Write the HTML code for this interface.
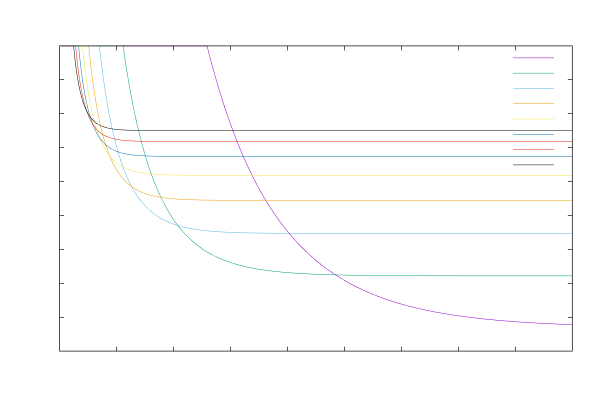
<!DOCTYPE html>
<html><head><meta charset="utf-8"><title>plot</title>
<style>
html,body{margin:0;padding:0;background:#fff;}
body{width:600px;height:400px;overflow:hidden;font-family:"Liberation Sans",sans-serif;}
svg{display:block;}
</style></head><body>
<svg width="600" height="400" viewBox="0 0 600 400">
<rect width="600" height="400" fill="#fff"/>
<g id="curves">
<path fill="#9400D3" d="M207.09 47.21L207.40 48.41L207.72 49.61L208.03 50.80L208.34 52.00L208.65 53.19L208.96 54.39L209.28 55.58L209.59 56.77L209.91 57.96L210.23 59.14L210.54 60.33L210.86 61.51L211.18 62.70L211.50 63.88L211.83 65.06L212.15 66.24L212.47 67.42L212.80 68.60L213.12 69.77L213.45 70.95L213.78 72.12L214.11 73.29L214.44 74.46L214.77 75.63L215.10 76.80L215.44 77.97L215.77 79.13L216.11 80.29L216.45 81.46L216.79 82.62L217.13 83.78L217.47 84.93L217.81 86.09L218.16 87.25L218.50 88.40L218.85 89.55L219.20 90.70L219.55 91.85L219.90 93.00L220.25 94.14L220.61 95.29L220.96 96.43L221.32 97.57L221.68 98.71L222.04 99.85L222.40 100.99L222.77 102.12L223.13 103.26L223.50 104.39L223.86 105.52L224.23 106.65L224.60 107.78L224.98 108.90L225.35 110.03L225.73 111.15L226.10 112.27L226.48 113.39L226.86 114.51L227.25 115.62L227.63 116.74L228.02 117.85L228.40 118.96L228.79 120.07L229.18 121.17L229.58 122.28L229.97 123.38L230.37 124.48L230.76 125.58L231.16 126.68L231.56 127.78L231.97 128.87L232.37 129.97L232.78 131.06L233.19 132.15L233.60 133.23L234.01 134.32L234.42 135.40L234.84 136.48L235.26 137.56L235.68 138.64L236.10 139.72L236.52 140.79L236.95 141.86L237.38 142.93L237.81 144.00L238.24 145.07L238.67 146.13L239.11 147.19L239.54 148.25L239.98 149.31L240.42 150.37L240.87 151.42L241.31 152.47L241.76 153.52L242.21 154.57L242.66 155.61L243.12 156.66L243.57 157.70L244.03 158.74L244.49 159.77L244.96 160.81L245.42 161.84L245.89 162.87L246.36 163.90L246.83 164.92L247.30 165.95L247.78 166.97L248.26 167.99L248.74 169.00L249.22 170.02L249.71 171.03L250.20 172.04L250.69 173.05L251.18 174.05L251.67 175.06L252.17 176.06L252.67 177.05L253.17 178.05L253.68 179.04L254.18 180.03L254.69 181.02L255.21 182.01L255.72 182.99L256.24 183.97L256.76 184.95L257.28 185.92L257.80 186.90L258.33 187.87L258.86 188.83L259.39 189.80L259.93 190.76L260.46 191.72L261.00 192.68L261.55 193.63L262.09 194.59L262.64 195.53L263.19 196.48L263.75 197.42L264.30 198.37L264.86 199.30L265.42 200.24L265.99 201.17L266.56 202.10L267.13 203.03L267.70 203.95L268.28 204.88L268.85 205.79L269.44 206.71L270.02 207.62L270.61 208.53L271.20 209.44L271.79 210.34L272.39 211.24L272.99 212.14L273.59 213.04L274.20 213.93L274.81 214.82L275.42 215.70L276.03 216.59L276.65 217.47L277.27 218.34L277.90 219.22L278.52 220.09L279.15 220.95L279.79 221.82L280.42 222.68L281.06 223.54L281.71 224.39L282.35 225.24L283.00 226.09L283.66 226.94L284.31 227.78L284.97 228.62L285.63 229.45L286.30 230.28L286.97 231.11L287.64 231.93L288.32 232.76L289.00 233.57L289.68 234.39L290.37 235.20L291.06 236.01L291.75 236.81L292.45 237.61L293.15 238.41L293.85 239.20L294.56 239.99L295.27 240.78L295.99 241.56L296.71 242.34L297.43 243.12L298.15 243.89L298.88 244.66L299.62 245.43L300.35 246.19L301.09 246.94L301.84 247.70L302.58 248.45L303.34 249.20L304.09 249.94L304.85 250.68L305.61 251.41L306.38 252.15L307.15 252.87L307.92 253.60L308.70 254.32L309.48 255.03L310.27 255.75L311.06 256.46L311.85 257.16L312.65 257.86L313.45 258.56L314.25 259.25L315.06 259.94L315.88 260.63L316.69 261.31L317.51 261.99L318.34 262.66L319.17 263.33L320.00 263.99L320.84 264.66L321.68 265.31L322.52 265.97L323.37 266.62L324.22 267.26L325.08 267.90L325.94 268.54L326.81 269.17L327.68 269.80L328.55 270.43L329.43 271.05L330.31 271.67L331.19 272.28L332.08 272.89L332.98 273.49L333.88 274.09L334.78 274.69L335.68 275.28L336.59 275.87L337.51 276.45L338.43 277.03L339.35 277.61L340.28 278.18L341.21 278.75L342.14 279.31L343.08 279.87L344.03 280.42L344.98 280.97L345.93 281.52L346.88 282.06L347.85 282.60L348.81 283.13L349.78 283.66L350.75 284.19L351.73 284.71L352.71 285.22L353.70 285.74L354.69 286.25L355.68 286.75L356.68 287.25L357.68 287.75L358.69 288.24L359.70 288.73L360.72 289.21L361.73 289.69L362.76 290.16L363.79 290.64L364.82 291.10L365.85 291.56L366.89 292.02L367.94 292.48L368.99 292.93L370.04 293.37L371.09 293.82L372.15 294.25L373.22 294.69L374.29 295.12L375.36 295.54L376.44 295.97L377.52 296.38L378.60 296.80L379.69 297.21L380.79 297.61L381.88 298.01L382.98 298.41L384.09 298.80L385.20 299.19L386.31 299.58L387.43 299.96L388.55 300.34L389.67 300.71L390.80 301.08L391.94 301.45L393.07 301.81L394.21 302.17L395.36 302.53L396.50 302.88L397.66 303.22L398.81 303.57L399.97 303.91L401.13 304.24L402.30 304.57L403.47 304.90L404.64 305.23L405.82 305.55L407.00 305.87L408.19 306.18L409.38 306.49L410.57 306.80L411.76 307.10L412.94 307.40L413.06 306.91L411.89 306.62L410.69 306.31L409.50 306.01L408.31 305.70L407.13 305.38L405.95 305.07L404.78 304.75L403.60 304.42L402.44 304.09L401.27 303.76L400.11 303.43L398.95 303.09L397.80 302.74L396.65 302.40L395.50 302.05L394.36 301.69L393.22 301.34L392.09 300.97L390.96 300.61L389.83 300.24L388.71 299.87L387.59 299.49L386.47 299.11L385.36 298.72L384.26 298.33L383.15 297.94L382.05 297.54L380.96 297.14L379.87 296.74L378.78 296.33L377.70 295.92L376.62 295.50L375.54 295.08L374.47 294.65L373.41 294.22L372.34 293.79L371.29 293.35L370.23 292.91L369.18 292.47L368.14 292.02L367.09 291.57L366.06 291.11L365.02 290.65L363.99 290.18L362.97 289.71L361.95 289.24L360.93 288.76L359.92 288.28L358.91 287.79L357.90 287.30L356.90 286.80L355.91 286.30L354.91 285.80L353.93 285.29L352.94 284.78L351.96 284.27L350.99 283.75L350.02 283.22L349.05 282.69L348.09 282.16L347.13 281.62L346.18 281.08L345.23 280.54L344.28 279.99L343.34 279.44L342.40 278.88L341.47 278.32L340.54 277.75L339.61 277.18L338.69 276.61L337.78 276.03L336.86 275.45L335.96 274.86L335.05 274.27L334.15 273.68L333.26 273.08L332.36 272.47L331.48 271.87L330.59 271.25L329.71 270.64L328.84 270.02L327.97 269.40L327.10 268.77L326.24 268.14L325.38 267.50L324.52 266.86L323.67 266.22L322.83 265.57L321.98 264.92L321.15 264.26L320.31 263.60L319.48 262.94L318.65 262.27L317.83 261.60L317.01 260.92L316.20 260.24L315.39 259.56L314.58 258.87L313.78 258.18L312.98 257.49L312.18 256.79L311.39 256.08L310.60 255.38L309.82 254.66L309.04 253.95L308.26 253.23L307.49 252.51L306.72 251.78L305.96 251.05L305.20 250.32L304.44 249.58L303.69 248.84L302.94 248.10L302.19 247.35L301.45 246.59L300.71 245.84L299.98 245.08L299.25 244.32L298.52 243.55L297.79 242.78L297.07 242.00L296.36 241.23L295.64 240.44L294.93 239.66L294.23 238.87L293.53 238.08L292.83 237.28L292.13 236.48L291.44 235.68L290.75 234.88L290.07 234.07L289.38 233.25L288.70 232.44L288.03 231.62L287.36 230.79L286.69 229.97L286.03 229.14L285.36 228.31L284.71 227.47L284.05 226.63L283.40 225.79L282.75 224.94L282.11 224.09L281.46 223.24L280.82 222.38L280.19 221.52L279.56 220.66L278.93 219.79L278.30 218.93L277.68 218.05L277.06 217.18L276.44 216.30L275.83 215.42L275.22 214.53L274.61 213.65L274.01 212.76L273.40 211.86L272.81 210.97L272.21 210.07L271.62 209.17L271.03 208.26L270.44 207.35L269.86 206.44L269.28 205.53L268.70 204.61L268.12 203.69L267.55 202.77L266.98 201.84L266.41 200.91L265.85 199.98L265.29 199.05L264.73 198.11L264.18 197.17L263.62 196.23L263.07 195.28L262.53 194.34L261.98 193.39L261.44 192.43L260.90 191.48L260.36 190.52L259.83 189.56L259.30 188.59L258.77 187.63L258.24 186.66L257.72 185.69L257.20 184.71L256.68 183.74L256.16 182.76L255.65 181.77L255.14 180.79L254.63 179.80L254.12 178.81L253.62 177.82L253.12 176.83L252.62 175.83L252.12 174.83L251.63 173.83L251.14 172.83L250.65 171.82L250.16 170.81L249.67 169.80L249.19 168.79L248.71 167.77L248.23 166.76L247.76 165.74L247.28 164.72L246.81 163.69L246.34 162.66L245.88 161.63L245.41 160.60L244.95 159.57L244.49 158.53L244.03 157.50L243.58 156.46L243.12 155.41L242.67 154.37L242.22 153.32L241.77 152.28L241.33 151.23L240.89 150.17L240.44 149.12L240.01 148.06L239.57 147.00L239.13 145.94L238.70 144.88L238.27 143.81L237.84 142.75L237.41 141.68L236.99 140.61L236.56 139.53L236.14 138.46L235.72 137.38L235.31 136.30L234.89 135.22L234.48 134.14L234.06 133.06L233.65 131.97L233.25 130.88L232.84 129.79L232.44 128.70L232.03 127.61L231.63 126.51L231.23 125.41L230.84 124.32L230.44 123.21L230.05 122.11L229.65 121.01L229.26 119.90L228.87 118.79L228.49 117.68L228.10 116.57L227.72 115.46L227.34 114.34L226.96 113.23L226.58 112.11L226.20 110.99L225.83 109.87L225.45 108.74L225.08 107.62L224.71 106.49L224.34 105.37L223.97 104.24L223.61 103.10L223.24 101.97L222.88 100.84L222.52 99.70L222.16 98.56L221.80 97.42L221.44 96.28L221.09 95.14L220.73 94.00L220.38 92.85L220.03 91.71L219.68 90.56L219.33 89.41L218.98 88.26L218.64 87.10L218.29 85.95L217.95 84.79L217.61 83.64L217.27 82.48L216.93 81.32L216.59 80.16L216.25 78.99L215.92 77.83L215.58 76.66L215.25 75.50L214.92 74.33L214.59 73.16L214.26 71.99L213.93 70.81L213.60 69.64L213.28 68.46L212.95 67.29L212.63 66.11L212.31 64.93L211.99 63.75L211.67 62.57L211.35 61.38L211.03 60.20L210.71 59.01L210.39 57.83L210.08 56.64L209.76 55.45L209.45 54.26L209.13 53.07L208.82 51.87L208.51 50.68L208.20 49.48L207.89 48.29L207.58 47.09L207.27 45.91L207.27 45.87L206.77 45.87L206.78 45.99Z"/>
<g fill="#9400D3">
<rect x="413" y="307.03" width="1" height="0.5"/>
<rect x="414" y="307.27" width="1" height="0.5"/>
<rect x="415" y="307.51" width="1" height="0.5"/>
<rect x="416" y="307.75" width="1" height="0.5"/>
<rect x="417" y="307.99" width="1" height="0.5"/>
<rect x="418" y="308.22" width="1" height="0.5"/>
<rect x="419" y="308.45" width="1" height="0.5"/>
<rect x="420" y="308.68" width="1" height="0.5"/>
<rect x="421" y="308.91" width="1" height="0.5"/>
<rect x="422" y="309.13" width="1" height="0.5"/>
<rect x="423" y="309.35" width="1" height="0.5"/>
<rect x="424" y="309.57" width="1" height="0.5"/>
<rect x="425" y="309.78" width="1" height="0.5"/>
<rect x="426" y="309.99" width="1" height="0.5"/>
<rect x="427" y="310.20" width="1" height="0.5"/>
<rect x="428" y="310.41" width="1" height="0.5"/>
<rect x="429" y="310.61" width="1" height="0.5"/>
<rect x="430" y="310.81" width="1" height="0.5"/>
<rect x="431" y="311.01" width="1" height="0.5"/>
<rect x="432" y="311.21" width="1" height="0.5"/>
<rect x="433" y="311.40" width="1" height="0.5"/>
<rect x="434" y="311.60" width="1" height="0.5"/>
<rect x="435" y="311.79" width="1" height="0.5"/>
<rect x="436" y="311.97" width="1" height="0.5"/>
<rect x="437" y="312.16" width="1" height="0.5"/>
<rect x="438" y="312.34" width="1" height="0.5"/>
<rect x="439" y="312.52" width="1" height="0.5"/>
<rect x="440" y="312.70" width="1" height="0.5"/>
<rect x="441" y="312.88" width="1" height="0.5"/>
<rect x="442" y="313.05" width="1" height="0.5"/>
<rect x="443" y="313.22" width="1" height="0.5"/>
<rect x="444" y="313.39" width="1" height="0.5"/>
<rect x="445" y="313.56" width="1" height="0.5"/>
<rect x="446" y="313.73" width="1" height="0.5"/>
<rect x="447" y="313.89" width="1" height="0.5"/>
<rect x="448" y="314.05" width="1" height="0.5"/>
<rect x="449" y="314.21" width="1" height="0.5"/>
<rect x="450" y="314.37" width="1" height="0.5"/>
<rect x="451" y="314.53" width="1" height="0.5"/>
<rect x="452" y="314.68" width="1" height="0.5"/>
<rect x="453" y="314.84" width="1" height="0.5"/>
<rect x="454" y="314.99" width="1" height="0.5"/>
<rect x="455" y="315.14" width="1" height="0.5"/>
<rect x="456" y="315.28" width="1" height="0.5"/>
<rect x="457" y="315.43" width="1" height="0.5"/>
<rect x="458" y="315.57" width="1" height="0.5"/>
<rect x="459" y="315.71" width="1" height="0.5"/>
<rect x="460" y="315.86" width="1" height="0.5"/>
<rect x="461" y="315.99" width="1" height="0.5"/>
<rect x="462" y="316.13" width="1" height="0.5"/>
<rect x="463" y="316.27" width="1" height="0.5"/>
<rect x="464" y="316.40" width="1" height="0.5"/>
<rect x="465" y="316.53" width="1" height="0.5"/>
<rect x="466" y="316.66" width="1" height="0.5"/>
<rect x="467" y="316.79" width="1" height="0.5"/>
<rect x="468" y="316.92" width="1" height="0.5"/>
<rect x="469" y="317.04" width="1" height="0.5"/>
<rect x="470" y="317.17" width="1" height="0.5"/>
<rect x="471" y="317.29" width="1" height="0.5"/>
<rect x="472" y="317.41" width="1" height="0.5"/>
<rect x="473" y="317.53" width="1" height="0.5"/>
<rect x="474" y="317.65" width="1" height="0.5"/>
<rect x="475" y="317.77" width="1" height="0.5"/>
<rect x="476" y="317.88" width="1" height="0.5"/>
<rect x="477" y="318.00" width="1" height="0.5"/>
<rect x="478" y="318.11" width="1" height="0.5"/>
<rect x="479" y="318.22" width="1" height="0.5"/>
<rect x="480" y="318.33" width="1" height="0.5"/>
<rect x="481" y="318.44" width="1" height="0.5"/>
<rect x="482" y="318.55" width="1" height="0.5"/>
<rect x="483" y="318.66" width="1" height="0.5"/>
<rect x="484" y="318.76" width="1" height="0.5"/>
<rect x="485" y="318.86" width="1" height="0.5"/>
<rect x="486" y="318.97" width="1" height="0.5"/>
<rect x="487" y="319.07" width="1" height="0.5"/>
<rect x="488" y="319.17" width="1" height="0.5"/>
<rect x="489" y="319.27" width="1" height="0.5"/>
<rect x="490" y="319.36" width="1" height="0.5"/>
<rect x="491" y="319.46" width="1" height="0.5"/>
<rect x="492" y="319.56" width="1" height="0.5"/>
<rect x="493" y="319.65" width="1" height="0.5"/>
<rect x="494" y="319.74" width="1" height="0.5"/>
<rect x="495" y="319.84" width="1" height="0.5"/>
<rect x="496" y="319.93" width="1" height="0.5"/>
<rect x="497" y="320.02" width="1" height="0.5"/>
<rect x="498" y="320.11" width="1" height="0.5"/>
<rect x="499" y="320.19" width="1" height="0.5"/>
<rect x="500" y="320.28" width="1" height="0.5"/>
<rect x="501" y="320.37" width="1" height="0.5"/>
<rect x="502" y="320.45" width="1" height="0.5"/>
<rect x="503" y="320.53" width="1" height="0.5"/>
<rect x="504" y="320.62" width="1" height="0.5"/>
<rect x="505" y="320.70" width="1" height="0.5"/>
<rect x="506" y="320.78" width="1" height="0.5"/>
<rect x="507" y="320.86" width="1" height="0.5"/>
<rect x="508" y="320.94" width="1" height="0.5"/>
<rect x="509" y="321.02" width="1" height="0.5"/>
<rect x="510" y="321.09" width="1" height="0.5"/>
<rect x="511" y="321.17" width="1" height="0.5"/>
<rect x="512" y="321.24" width="1" height="0.5"/>
<rect x="513" y="321.32" width="1" height="0.5"/>
<rect x="514" y="321.39" width="1" height="0.5"/>
<rect x="515" y="321.46" width="1" height="0.5"/>
<rect x="516" y="321.53" width="1" height="0.5"/>
<rect x="517" y="321.61" width="1" height="0.5"/>
<rect x="518" y="321.68" width="1" height="0.5"/>
<rect x="519" y="321.74" width="1" height="0.5"/>
<rect x="520" y="321.81" width="1" height="0.5"/>
<rect x="521" y="321.88" width="1" height="0.5"/>
<rect x="522" y="321.95" width="1" height="0.5"/>
<rect x="523" y="322.01" width="1" height="0.5"/>
<rect x="524" y="322.08" width="1" height="0.5"/>
<rect x="525" y="322.14" width="1" height="0.5"/>
<rect x="526" y="322.21" width="1" height="0.5"/>
<rect x="527" y="322.27" width="1" height="0.5"/>
<rect x="528" y="322.33" width="1" height="0.5"/>
<rect x="529" y="322.39" width="1" height="0.5"/>
<rect x="530" y="322.45" width="1" height="0.5"/>
<rect x="531" y="322.51" width="1" height="0.5"/>
<rect x="532" y="322.57" width="1" height="0.5"/>
<rect x="533" y="322.63" width="1" height="0.5"/>
<rect x="534" y="322.69" width="1" height="0.5"/>
<rect x="535" y="322.74" width="1" height="0.5"/>
<rect x="536" y="322.80" width="1" height="0.5"/>
<rect x="537" y="322.86" width="1" height="0.5"/>
<rect x="538" y="322.91" width="1" height="0.5"/>
<rect x="539" y="322.97" width="1" height="0.5"/>
<rect x="540" y="323.02" width="1" height="0.5"/>
<rect x="541" y="323.07" width="1" height="0.5"/>
<rect x="542" y="323.12" width="1" height="0.5"/>
<rect x="543" y="323.18" width="1" height="0.5"/>
<rect x="544" y="323.23" width="1" height="0.5"/>
<rect x="545" y="323.28" width="1" height="0.5"/>
<rect x="546" y="323.33" width="1" height="0.5"/>
<rect x="547" y="323.38" width="1" height="0.5"/>
<rect x="548" y="323.43" width="1" height="0.5"/>
<rect x="549" y="323.47" width="1" height="0.5"/>
<rect x="550" y="323.52" width="1" height="0.5"/>
<rect x="551" y="323.57" width="1" height="0.5"/>
<rect x="552" y="323.62" width="1" height="0.5"/>
<rect x="553" y="323.66" width="1" height="0.5"/>
<rect x="554" y="323.71" width="1" height="0.5"/>
<rect x="555" y="323.75" width="1" height="0.5"/>
<rect x="556" y="323.80" width="1" height="0.5"/>
<rect x="557" y="323.84" width="1" height="0.5"/>
<rect x="558" y="323.88" width="1" height="0.5"/>
<rect x="559" y="323.93" width="1" height="0.5"/>
<rect x="560" y="323.97" width="1" height="0.5"/>
<rect x="561" y="324.01" width="1" height="0.5"/>
<rect x="562" y="324.05" width="1" height="0.5"/>
<rect x="563" y="324.09" width="1" height="0.5"/>
<rect x="564" y="324.13" width="1" height="0.5"/>
<rect x="565" y="324.17" width="1" height="0.5"/>
<rect x="566" y="324.21" width="1" height="0.5"/>
<rect x="567" y="324.25" width="1" height="0.5"/>
<rect x="568" y="324.29" width="1" height="0.5"/>
<rect x="569" y="324.33" width="1" height="0.5"/>
<rect x="570" y="324.37" width="1" height="0.5"/>
<rect x="571" y="324.40" width="1" height="0.5"/>
<rect x="572" y="324.43" width="0.3" height="0.5"/>
</g>
<path fill="#009E73" d="M123.05 47.40L123.25 48.81L123.45 50.21L123.65 51.60L123.85 52.98L124.05 54.35L124.25 55.70L124.45 57.05L124.65 58.39L124.85 59.72L125.05 61.03L125.25 62.34L125.45 63.64L125.65 64.94L125.85 66.23L126.06 67.52L126.26 68.81L126.47 70.10L126.68 71.39L126.88 72.68L127.09 73.96L127.31 75.25L127.52 76.53L127.73 77.81L127.95 79.09L128.17 80.37L128.38 81.64L128.60 82.92L128.83 84.19L129.05 85.47L129.27 86.74L129.50 88.01L129.73 89.27L129.96 90.54L130.19 91.81L130.42 93.07L130.65 94.33L130.89 95.59L131.12 96.85L131.36 98.11L131.60 99.36L131.84 100.61L132.09 101.86L132.33 103.11L132.58 104.36L132.83 105.61L133.08 106.85L133.33 108.10L133.59 109.34L133.84 110.58L134.10 111.81L134.36 113.05L134.62 114.28L134.89 115.51L135.15 116.74L135.42 117.97L135.69 119.20L135.96 120.42L136.23 121.64L136.51 122.86L136.79 124.08L137.07 125.29L137.35 126.51L137.63 127.72L137.92 128.93L138.21 130.13L138.50 131.34L138.79 132.54L139.08 133.74L139.38 134.94L139.68 136.13L139.98 137.33L140.29 138.52L140.59 139.71L140.90 140.89L141.21 142.08L141.53 143.26L141.84 144.43L142.16 145.61L142.48 146.78L142.81 147.95L143.13 149.12L143.46 150.29L143.80 151.45L144.13 152.61L144.47 153.77L144.81 154.92L145.15 156.07L145.50 157.22L145.85 158.37L146.20 159.51L146.55 160.65L146.91 161.79L147.27 162.92L147.64 164.05L148.00 165.18L148.37 166.30L148.75 167.43L149.12 168.54L149.50 169.66L149.89 170.77L150.27 171.88L150.66 172.98L151.06 174.09L151.45 175.18L151.85 176.28L152.26 177.37L152.66 178.46L153.07 179.54L153.49 180.62L153.91 181.70L154.33 182.77L154.76 183.84L155.19 184.90L155.62 185.96L156.06 187.02L156.50 188.07L156.95 189.12L157.40 190.17L157.85 191.21L158.31 192.24L158.77 193.27L159.24 194.30L159.71 195.32L160.18 196.34L160.67 197.36L161.15 198.37L161.64 199.37L162.13 200.37L162.63 201.37L163.14 202.36L163.65 203.35L164.16 204.33L164.68 205.30L165.20 206.28L165.73 207.24L166.26 208.20L166.80 209.16L167.35 210.11L167.90 211.05L168.45 211.99L169.01 212.93L169.58 213.86L170.15 214.78L170.73 215.70L171.31 216.61L171.90 217.52L172.49 218.42L173.09 219.31L173.70 220.20L174.31 221.08L174.93 221.96L175.56 222.83L176.19 223.69L176.83 224.55L177.47 225.40L178.12 226.25L178.78 227.09L179.44 227.92L180.11 228.74L180.79 229.56L181.48 230.37L182.17 231.18L182.87 231.97L183.57 232.77L184.28 233.55L185.00 234.33L185.73 235.09L186.46 235.86L187.20 236.61L187.95 237.36L188.71 238.10L189.47 238.83L190.24 239.56L191.02 240.27L191.81 240.98L192.61 241.68L193.41 242.38L194.22 243.06L195.04 243.74L195.86 244.41L196.70 245.07L197.54 245.73L198.39 246.37L199.25 247.01L200.12 247.64L200.99 248.26L201.88 248.87L202.77 249.48L203.67 250.08L204.58 250.66L205.49 251.24L206.42 251.81L207.35 252.38L208.30 252.93L209.25 253.48L210.21 254.02L211.18 254.54L212.15 255.06L213.14 255.58L214.13 256.08L215.13 256.58L216.14 257.06L217.16 257.54L218.19 258.01L219.22 258.47L220.27 258.92L221.32 259.37L222.38 259.81L223.45 260.23L224.53 260.65L225.61 261.07L226.71 261.47L227.81 261.86L228.92 262.25L230.04 262.63L231.16 263.00L232.30 263.37L233.44 263.72L234.59 264.07L235.75 264.41L236.91 264.74L238.08 265.07L239.26 265.39L240.45 265.70L241.64 266.00L241.94 266.07L242.06 265.59L241.76 265.52L240.57 265.21L239.39 264.90L238.21 264.59L237.05 264.26L235.88 263.93L234.73 263.59L233.59 263.24L232.45 262.89L231.32 262.53L230.20 262.16L229.08 261.78L227.98 261.39L226.88 261.00L225.79 260.60L224.71 260.19L223.63 259.77L222.57 259.34L221.51 258.91L220.47 258.47L219.43 258.01L218.39 257.55L217.37 257.09L216.36 256.61L215.35 256.13L214.35 255.63L213.36 255.13L212.38 254.62L211.41 254.10L210.45 253.58L209.49 253.04L208.55 252.50L207.61 251.95L206.68 251.39L205.76 250.82L204.85 250.24L203.94 249.66L203.05 249.06L202.16 248.46L201.28 247.85L200.41 247.23L199.55 246.61L198.69 245.97L197.85 245.33L197.01 244.68L196.18 244.02L195.35 243.35L194.54 242.68L193.73 242.00L192.93 241.31L192.14 240.61L191.36 239.90L190.59 239.19L189.82 238.47L189.06 237.74L188.30 237.00L187.56 236.26L186.82 235.51L186.09 234.75L185.37 233.98L184.65 233.21L183.94 232.43L183.24 231.64L182.54 230.85L181.86 230.05L181.18 229.24L180.50 228.43L179.83 227.60L179.17 226.78L178.52 225.94L177.87 225.10L177.23 224.25L176.59 223.40L175.96 222.54L175.34 221.67L174.72 220.80L174.11 219.92L173.51 219.03L172.91 218.14L172.32 217.24L171.73 216.34L171.15 215.43L170.57 214.52L170.00 213.60L169.44 212.67L168.88 211.74L168.33 210.80L167.78 209.86L167.24 208.91L166.70 207.96L166.17 207.00L165.64 206.04L165.12 205.07L164.60 204.09L164.09 203.12L163.58 202.13L163.08 201.14L162.58 200.15L162.09 199.15L161.60 198.15L161.12 197.14L160.64 196.13L160.16 195.11L159.69 194.09L159.23 193.07L158.76 192.04L158.31 191.00L157.85 189.97L157.40 188.92L156.96 187.88L156.52 186.83L156.08 185.77L155.65 184.71L155.22 183.65L154.79 182.58L154.37 181.51L153.96 180.44L153.54 179.36L153.13 178.28L152.72 177.19L152.32 176.10L151.92 175.01L151.53 173.92L151.13 172.82L150.74 171.71L150.36 170.61L149.98 169.50L149.60 168.38L149.22 167.27L148.85 166.15L148.48 165.02L148.11 163.90L147.75 162.77L147.39 161.64L147.03 160.50L146.68 159.36L146.33 158.22L145.98 157.08L145.63 155.93L145.29 154.78L144.95 153.63L144.61 152.47L144.28 151.31L143.95 150.15L143.62 148.99L143.29 147.82L142.97 146.65L142.64 145.48L142.33 144.30L142.01 143.13L141.70 141.95L141.39 140.77L141.08 139.58L140.77 138.39L140.47 137.20L140.17 136.01L139.87 134.82L139.57 133.62L139.27 132.42L138.98 131.22L138.69 130.02L138.40 128.81L138.12 127.60L137.83 126.39L137.55 125.18L137.27 123.97L137.00 122.75L136.72 121.53L136.45 120.31L136.18 119.09L135.91 117.86L135.64 116.64L135.37 115.41L135.11 114.18L134.85 112.95L134.59 111.71L134.33 110.47L134.08 109.24L133.82 108.00L133.57 106.75L133.32 105.51L133.07 104.27L132.82 103.02L132.58 101.77L132.34 100.52L132.09 99.27L131.85 98.01L131.62 96.76L131.38 95.50L131.14 94.24L130.91 92.98L130.68 91.72L130.45 90.45L130.22 89.19L129.99 87.92L129.76 86.65L129.54 85.38L129.32 84.11L129.10 82.83L128.88 81.56L128.66 80.28L128.44 79.01L128.23 77.73L128.01 76.45L127.80 75.16L127.59 73.88L127.38 72.60L127.17 71.31L126.96 70.02L126.76 68.73L126.55 67.44L126.35 66.15L126.15 64.86L125.94 63.56L125.74 62.27L125.55 60.96L125.35 59.64L125.15 58.31L124.95 56.98L124.75 55.63L124.55 54.27L124.35 52.91L124.15 51.53L123.95 50.14L123.75 48.74L123.55 47.33L123.35 45.92L123.34 45.87L122.84 45.87L122.85 45.98Z"/>
<g fill="#009E73">
<rect x="242" y="265.70" width="1" height="0.5"/>
<rect x="243" y="265.95" width="1" height="0.5"/>
<rect x="244" y="266.18" width="1" height="0.5"/>
<rect x="245" y="266.41" width="1" height="0.5"/>
<rect x="246" y="266.64" width="1" height="0.5"/>
<rect x="247" y="266.86" width="1" height="0.5"/>
<rect x="248" y="267.07" width="1" height="0.5"/>
<rect x="249" y="267.28" width="1" height="0.5"/>
<rect x="250" y="267.48" width="1" height="0.5"/>
<rect x="251" y="267.68" width="1" height="0.5"/>
<rect x="252" y="267.88" width="1" height="0.5"/>
<rect x="253" y="268.06" width="1" height="0.5"/>
<rect x="254" y="268.25" width="1" height="0.5"/>
<rect x="255" y="268.43" width="1" height="0.5"/>
<rect x="256" y="268.60" width="1" height="0.5"/>
<rect x="257" y="268.77" width="1" height="0.5"/>
<rect x="258" y="268.94" width="1" height="0.5"/>
<rect x="259" y="269.10" width="1" height="0.5"/>
<rect x="260" y="269.26" width="1" height="0.5"/>
<rect x="261" y="269.42" width="1" height="0.5"/>
<rect x="262" y="269.57" width="1" height="0.5"/>
<rect x="263" y="269.72" width="1" height="0.5"/>
<rect x="264" y="269.86" width="1" height="0.5"/>
<rect x="265" y="270.00" width="1" height="0.5"/>
<rect x="266" y="270.14" width="1" height="0.5"/>
<rect x="267" y="270.27" width="1" height="0.5"/>
<rect x="268" y="270.40" width="1" height="0.5"/>
<rect x="269" y="270.53" width="1" height="0.5"/>
<rect x="270" y="270.65" width="1" height="0.5"/>
<rect x="271" y="270.77" width="1" height="0.5"/>
<rect x="272" y="270.89" width="1" height="0.5"/>
<rect x="273" y="271.00" width="1" height="0.5"/>
<rect x="274" y="271.12" width="1" height="0.5"/>
<rect x="275" y="271.23" width="1" height="0.5"/>
<rect x="276" y="271.33" width="1" height="0.5"/>
<rect x="277" y="271.44" width="1" height="0.5"/>
<rect x="278" y="271.54" width="1" height="0.5"/>
<rect x="279" y="271.64" width="1" height="0.5"/>
<rect x="280" y="271.73" width="1" height="0.5"/>
<rect x="281" y="271.83" width="1" height="0.5"/>
<rect x="282" y="271.92" width="1" height="0.5"/>
<rect x="283" y="272.01" width="1" height="0.5"/>
<rect x="284" y="272.10" width="1" height="0.5"/>
<rect x="285" y="272.18" width="1" height="0.5"/>
<rect x="286" y="272.27" width="1" height="0.5"/>
<rect x="287" y="272.35" width="1" height="0.5"/>
<rect x="288" y="272.43" width="1" height="0.5"/>
<rect x="289" y="272.51" width="1" height="0.5"/>
<rect x="290" y="272.58" width="1" height="0.5"/>
<rect x="291" y="272.66" width="1" height="0.5"/>
<rect x="292" y="272.73" width="1" height="0.5"/>
<rect x="293" y="272.80" width="1" height="0.5"/>
<rect x="294" y="272.87" width="1" height="0.5"/>
<rect x="295" y="272.93" width="1" height="0.5"/>
<rect x="296" y="273.00" width="1" height="0.5"/>
<rect x="297" y="273.06" width="1" height="0.5"/>
<rect x="298" y="273.12" width="1" height="0.5"/>
<rect x="299" y="273.18" width="1" height="0.5"/>
<rect x="300" y="273.24" width="1" height="0.5"/>
<rect x="301" y="273.30" width="1" height="0.5"/>
<rect x="302" y="273.36" width="1" height="0.5"/>
<rect x="303" y="273.41" width="1" height="0.5"/>
<rect x="304" y="273.47" width="1" height="0.5"/>
<rect x="305" y="273.52" width="1" height="0.5"/>
<rect x="306" y="273.57" width="1" height="0.5"/>
<rect x="307" y="273.62" width="1" height="0.5"/>
<rect x="308" y="273.67" width="1" height="0.5"/>
<rect x="309" y="273.72" width="1" height="0.5"/>
<rect x="310" y="273.76" width="1" height="0.5"/>
<rect x="311" y="273.81" width="1" height="0.5"/>
<rect x="312" y="273.85" width="1" height="0.5"/>
<rect x="313" y="273.89" width="1" height="0.5"/>
<rect x="314" y="273.94" width="1" height="0.5"/>
<rect x="315" y="273.98" width="1" height="0.5"/>
<rect x="316" y="274.02" width="1" height="0.5"/>
<rect x="317" y="274.06" width="1" height="0.5"/>
<rect x="318" y="274.09" width="1" height="0.5"/>
<rect x="319" y="274.13" width="1" height="0.5"/>
<rect x="320" y="274.17" width="1" height="0.5"/>
<rect x="321" y="274.20" width="1" height="0.5"/>
<rect x="322" y="274.24" width="1" height="0.5"/>
<rect x="323" y="274.27" width="1" height="0.5"/>
<rect x="324" y="274.30" width="1" height="0.5"/>
<rect x="325" y="274.34" width="1" height="0.5"/>
<rect x="326" y="274.37" width="1" height="0.5"/>
<rect x="327" y="274.40" width="1" height="0.5"/>
<rect x="328" y="274.43" width="1" height="0.5"/>
<rect x="329" y="274.46" width="1" height="0.5"/>
<rect x="330" y="274.49" width="1" height="0.5"/>
<rect x="331" y="274.51" width="1" height="0.5"/>
<rect x="332" y="274.54" width="1" height="0.5"/>
<rect x="333" y="274.57" width="1" height="0.5"/>
<rect x="334" y="274.59" width="1" height="0.5"/>
<rect x="335" y="274.62" width="1" height="0.5"/>
<rect x="336" y="274.64" width="1" height="0.5"/>
<rect x="337" y="274.67" width="1" height="0.5"/>
<rect x="338" y="274.69" width="1" height="0.5"/>
<rect x="339" y="274.71" width="1" height="0.5"/>
<rect x="340" y="274.73" width="1" height="0.5"/>
<rect x="341" y="274.76" width="1" height="0.5"/>
<rect x="342" y="274.78" width="1" height="0.5"/>
<rect x="343" y="274.80" width="1" height="0.5"/>
<rect x="344" y="274.82" width="1" height="0.5"/>
<rect x="345" y="274.84" width="1" height="0.5"/>
<rect x="346" y="274.86" width="1" height="0.5"/>
<rect x="347" y="274.87" width="1" height="0.5"/>
<rect x="348" y="274.89" width="1" height="0.5"/>
<rect x="349" y="274.91" width="1" height="0.5"/>
<rect x="350" y="274.93" width="1" height="0.5"/>
<rect x="351" y="274.94" width="1" height="0.5"/>
<rect x="352" y="274.96" width="1" height="0.5"/>
<rect x="353" y="274.98" width="1" height="0.5"/>
<rect x="354" y="274.99" width="1" height="0.5"/>
<rect x="355" y="275.01" width="1" height="0.5"/>
<rect x="356" y="275.02" width="1" height="0.5"/>
<rect x="357" y="275.04" width="1" height="0.5"/>
<rect x="358" y="275.05" width="1" height="0.5"/>
<rect x="359" y="275.07" width="1" height="0.5"/>
<rect x="360" y="275.08" width="1" height="0.5"/>
<rect x="361" y="275.09" width="1" height="0.5"/>
<rect x="362" y="275.11" width="1" height="0.5"/>
<rect x="363" y="275.12" width="1" height="0.5"/>
<rect x="364" y="275.13" width="1" height="0.5"/>
<rect x="365" y="275.14" width="1" height="0.5"/>
<rect x="366" y="275.16" width="1" height="0.5"/>
<rect x="367" y="275.17" width="1" height="0.5"/>
<rect x="368" y="275.18" width="1" height="0.5"/>
<rect x="369" y="275.19" width="1" height="0.5"/>
<rect x="370" y="275.20" width="1" height="0.5"/>
<rect x="371" y="275.21" width="1" height="0.5"/>
<rect x="372" y="275.22" width="1" height="0.5"/>
<rect x="373" y="275.23" width="1" height="0.5"/>
<rect x="374" y="275.24" width="1" height="0.5"/>
<rect x="375" y="275.25" width="1" height="0.5"/>
<rect x="376" y="275.26" width="1" height="0.5"/>
<rect x="377" y="275.27" width="1" height="0.5"/>
<rect x="378" y="275.28" width="1" height="0.5"/>
<rect x="379" y="275.28" width="1" height="0.5"/>
<rect x="380" y="275.29" width="1" height="0.5"/>
<rect x="381" y="275.30" width="2" height="0.5"/>
<rect x="383" y="275.32" width="2" height="0.5"/>
<rect x="385" y="275.34" width="2" height="0.5"/>
<rect x="387" y="275.35" width="2" height="0.5"/>
<rect x="389" y="275.36" width="2" height="0.5"/>
<rect x="391" y="275.38" width="2" height="0.5"/>
<rect x="393" y="275.39" width="2" height="0.5"/>
<rect x="395" y="275.40" width="2" height="0.5"/>
<rect x="397" y="275.41" width="2" height="0.5"/>
<rect x="399" y="275.42" width="2" height="0.5"/>
<rect x="401" y="275.43" width="2" height="0.5"/>
<rect x="403" y="275.44" width="2" height="0.5"/>
<rect x="405" y="275.45" width="2" height="0.5"/>
<rect x="407" y="275.46" width="2" height="0.5"/>
<rect x="409" y="275.47" width="3" height="0.5"/>
<rect x="412" y="275.48" width="3" height="0.5"/>
<rect x="415" y="275.49" width="3" height="0.5"/>
<rect x="418" y="275.50" width="3" height="0.5"/>
<rect x="421" y="275.51" width="3" height="0.5"/>
<rect x="424" y="275.52" width="3" height="0.5"/>
<rect x="427" y="275.53" width="4" height="0.5"/>
<rect x="431" y="275.54" width="4" height="0.5"/>
<rect x="435" y="275.55" width="4" height="0.5"/>
<rect x="439" y="275.55" width="5" height="0.5"/>
<rect x="444" y="275.56" width="5" height="0.5"/>
<rect x="449" y="275.57" width="6" height="0.5"/>
<rect x="455" y="275.58" width="7" height="0.5"/>
<rect x="462" y="275.59" width="8" height="0.5"/>
<rect x="470" y="275.60" width="10" height="0.5"/>
<rect x="480" y="275.60" width="14" height="0.5"/>
<rect x="494" y="275.61" width="20" height="0.5"/>
<rect x="514" y="275.62" width="41" height="0.5"/>
<rect x="555" y="275.63" width="17.3" height="0.5"/>
</g>
<path fill="#56B4E9" d="M99.29 47.77L99.49 49.54L99.69 51.29L99.89 53.02L100.09 54.74L100.29 56.43L100.49 58.10L100.69 59.75L100.89 61.38L101.09 63.00L101.29 64.60L101.49 66.17L101.69 67.74L101.89 69.28L102.09 70.81L102.29 72.31L102.49 73.81L102.69 75.28L102.89 76.74L103.09 78.19L103.29 79.61L103.49 81.02L103.69 82.42L103.89 83.80L104.09 85.17L104.29 86.52L104.49 87.86L104.69 89.18L104.89 90.49L105.09 91.78L105.29 93.07L105.50 94.36L105.70 95.65L105.91 96.94L106.12 98.22L106.33 99.50L106.54 100.78L106.76 102.06L106.98 103.33L107.20 104.61L107.42 105.88L107.64 107.15L107.87 108.41L108.10 109.68L108.33 110.94L108.56 112.20L108.80 113.46L109.04 114.71L109.28 115.96L109.52 117.21L109.77 118.46L110.02 119.71L110.27 120.95L110.52 122.19L110.78 123.42L111.04 124.66L111.30 125.89L111.56 127.12L111.83 128.34L112.10 129.56L112.37 130.78L112.65 132.00L112.93 133.21L113.21 134.42L113.50 135.63L113.79 136.83L114.08 138.03L114.37 139.23L114.67 140.42L114.98 141.61L115.28 142.80L115.59 143.98L115.90 145.16L116.22 146.34L116.54 147.51L116.87 148.68L117.20 149.84L117.53 151.00L117.86 152.16L118.20 153.31L118.55 154.46L118.90 155.60L119.25 156.74L119.61 157.87L119.97 159.00L120.34 160.13L120.71 161.25L121.09 162.36L121.47 163.47L121.85 164.58L122.25 165.68L122.64 166.78L123.04 167.87L123.45 168.95L123.86 170.03L124.28 171.10L124.70 172.17L125.13 173.24L125.57 174.29L126.01 175.34L126.46 176.39L126.91 177.43L127.37 178.46L127.84 179.49L128.31 180.51L128.79 181.52L129.28 182.52L129.77 183.52L130.27 184.52L130.78 185.50L131.29 186.48L131.81 187.45L132.34 188.41L132.88 189.37L133.43 190.31L133.98 191.25L134.54 192.18L135.11 193.10L135.69 194.02L136.28 194.92L136.87 195.82L137.48 196.71L138.09 197.59L138.72 198.46L139.35 199.32L139.99 200.17L140.64 201.01L141.30 201.84L141.98 202.66L142.66 203.47L143.35 204.27L144.06 205.07L144.77 205.85L145.49 206.61L146.23 207.37L146.98 208.12L147.73 208.86L148.50 209.58L149.29 210.29L150.08 211.00L150.88 211.69L151.70 212.36L152.53 213.03L153.37 213.68L154.22 214.33L155.09 214.96L155.96 215.57L156.85 216.18L157.76 216.77L158.67 217.35L159.60 217.92L160.54 218.47L161.50 219.01L162.46 219.54L163.44 220.06L164.43 220.56L165.44 221.05L166.46 221.53L167.49 221.99L168.53 222.45L169.59 222.89L170.66 223.31L171.74 223.73L172.83 224.13L173.94 224.52L175.05 224.90L176.18 225.27L177.32 225.62L178.48 225.96L179.64 226.30L180.82 226.62L182.00 226.93L182.94 227.16L183.06 226.67L182.13 226.44L180.95 226.13L179.78 225.81L178.62 225.48L177.47 225.14L176.33 224.79L175.21 224.43L174.10 224.05L173.00 223.66L171.91 223.26L170.84 222.85L169.78 222.42L168.73 221.99L167.69 221.54L166.67 221.07L165.66 220.60L164.66 220.11L163.67 219.61L162.70 219.10L161.74 218.58L160.79 218.04L159.86 217.49L158.94 216.92L158.03 216.35L157.13 215.76L156.25 215.16L155.38 214.55L154.52 213.92L153.67 213.29L152.84 212.64L152.02 211.98L151.21 211.30L150.41 210.62L149.62 209.92L148.84 209.21L148.08 208.49L147.33 207.76L146.59 207.02L145.86 206.27L145.14 205.51L144.43 204.73L143.73 203.95L143.04 203.15L142.36 202.34L141.69 201.53L141.04 200.70L140.39 199.86L139.75 199.02L139.12 198.16L138.50 197.30L137.89 196.43L137.29 195.54L136.70 194.65L136.11 193.75L135.54 192.84L134.97 191.92L134.41 190.99L133.86 190.06L133.32 189.12L132.78 188.17L132.25 187.21L131.73 186.24L131.22 185.27L130.71 184.29L130.22 183.30L129.72 182.30L129.24 181.30L128.76 180.29L128.29 179.28L127.83 178.25L127.37 177.23L126.92 176.19L126.47 175.15L126.03 174.10L125.60 173.05L125.17 171.99L124.75 170.92L124.33 169.85L123.92 168.77L123.51 167.69L123.11 166.60L122.72 165.51L122.33 164.41L121.94 163.31L121.56 162.20L121.19 161.09L120.81 159.97L120.45 158.85L120.09 157.72L119.73 156.59L119.38 155.45L119.03 154.31L118.68 153.17L118.34 152.02L118.01 150.86L117.68 149.70L117.35 148.54L117.02 147.38L116.70 146.21L116.39 145.03L116.07 143.86L115.77 142.67L115.46 141.49L115.16 140.30L114.86 139.11L114.56 137.91L114.27 136.72L113.98 135.51L113.70 134.31L113.42 133.10L113.14 131.89L112.86 130.67L112.59 129.46L112.32 128.24L112.05 127.01L111.79 125.78L111.53 124.55L111.27 123.32L111.01 122.09L110.76 120.85L110.51 119.61L110.26 118.36L110.01 117.12L109.77 115.87L109.53 114.62L109.29 113.37L109.06 112.11L108.82 110.85L108.59 109.59L108.36 108.33L108.14 107.06L107.91 105.79L107.69 104.52L107.47 103.25L107.25 101.98L107.04 100.70L106.82 99.42L106.61 98.14L106.40 96.86L106.20 95.57L105.99 94.28L105.79 93.00L105.58 91.71L105.38 90.41L105.19 89.10L104.99 87.78L104.79 86.45L104.59 85.10L104.39 83.73L104.19 82.35L103.99 80.95L103.79 79.54L103.59 78.12L103.39 76.67L103.19 75.21L102.99 73.74L102.79 72.25L102.59 70.74L102.39 69.21L102.19 67.67L101.99 66.11L101.79 64.53L101.59 62.94L101.39 61.32L101.19 59.69L100.99 58.04L100.79 56.37L100.59 54.68L100.39 52.97L100.19 51.24L99.99 49.49L99.79 47.71L99.59 45.92L99.58 45.87L99.08 45.87L99.09 45.98Z"/>
<g fill="#56B4E9">
<rect x="183" y="226.79" width="1" height="0.5"/>
<rect x="184" y="227.03" width="1" height="0.5"/>
<rect x="185" y="227.25" width="1" height="0.5"/>
<rect x="186" y="227.47" width="1" height="0.5"/>
<rect x="187" y="227.68" width="1" height="0.5"/>
<rect x="188" y="227.89" width="1" height="0.5"/>
<rect x="189" y="228.08" width="1" height="0.5"/>
<rect x="190" y="228.27" width="1" height="0.5"/>
<rect x="191" y="228.45" width="1" height="0.5"/>
<rect x="192" y="228.63" width="1" height="0.5"/>
<rect x="193" y="228.80" width="1" height="0.5"/>
<rect x="194" y="228.96" width="1" height="0.5"/>
<rect x="195" y="229.12" width="1" height="0.5"/>
<rect x="196" y="229.27" width="1" height="0.5"/>
<rect x="197" y="229.41" width="1" height="0.5"/>
<rect x="198" y="229.55" width="1" height="0.5"/>
<rect x="199" y="229.68" width="1" height="0.5"/>
<rect x="200" y="229.81" width="1" height="0.5"/>
<rect x="201" y="229.94" width="1" height="0.5"/>
<rect x="202" y="230.06" width="1" height="0.5"/>
<rect x="203" y="230.17" width="1" height="0.5"/>
<rect x="204" y="230.29" width="1" height="0.5"/>
<rect x="205" y="230.39" width="1" height="0.5"/>
<rect x="206" y="230.50" width="1" height="0.5"/>
<rect x="207" y="230.60" width="1" height="0.5"/>
<rect x="208" y="230.69" width="1" height="0.5"/>
<rect x="209" y="230.79" width="1" height="0.5"/>
<rect x="210" y="230.87" width="1" height="0.5"/>
<rect x="211" y="230.96" width="1" height="0.5"/>
<rect x="212" y="231.04" width="1" height="0.5"/>
<rect x="213" y="231.12" width="1" height="0.5"/>
<rect x="214" y="231.20" width="1" height="0.5"/>
<rect x="215" y="231.27" width="1" height="0.5"/>
<rect x="216" y="231.34" width="1" height="0.5"/>
<rect x="217" y="231.41" width="1" height="0.5"/>
<rect x="218" y="231.48" width="1" height="0.5"/>
<rect x="219" y="231.54" width="1" height="0.5"/>
<rect x="220" y="231.60" width="1" height="0.5"/>
<rect x="221" y="231.66" width="1" height="0.5"/>
<rect x="222" y="231.72" width="1" height="0.5"/>
<rect x="223" y="231.77" width="1" height="0.5"/>
<rect x="224" y="231.83" width="1" height="0.5"/>
<rect x="225" y="231.88" width="1" height="0.5"/>
<rect x="226" y="231.93" width="1" height="0.5"/>
<rect x="227" y="231.97" width="1" height="0.5"/>
<rect x="228" y="232.02" width="1" height="0.5"/>
<rect x="229" y="232.06" width="1" height="0.5"/>
<rect x="230" y="232.11" width="1" height="0.5"/>
<rect x="231" y="232.15" width="1" height="0.5"/>
<rect x="232" y="232.19" width="1" height="0.5"/>
<rect x="233" y="232.22" width="1" height="0.5"/>
<rect x="234" y="232.26" width="1" height="0.5"/>
<rect x="235" y="232.29" width="1" height="0.5"/>
<rect x="236" y="232.33" width="1" height="0.5"/>
<rect x="237" y="232.36" width="1" height="0.5"/>
<rect x="238" y="232.39" width="1" height="0.5"/>
<rect x="239" y="232.42" width="1" height="0.5"/>
<rect x="240" y="232.45" width="1" height="0.5"/>
<rect x="241" y="232.48" width="1" height="0.5"/>
<rect x="242" y="232.51" width="1" height="0.5"/>
<rect x="243" y="232.53" width="1" height="0.5"/>
<rect x="244" y="232.56" width="1" height="0.5"/>
<rect x="245" y="232.58" width="1" height="0.5"/>
<rect x="246" y="232.61" width="1" height="0.5"/>
<rect x="247" y="232.63" width="1" height="0.5"/>
<rect x="248" y="232.65" width="1" height="0.5"/>
<rect x="249" y="232.67" width="1" height="0.5"/>
<rect x="250" y="232.69" width="1" height="0.5"/>
<rect x="251" y="232.71" width="1" height="0.5"/>
<rect x="252" y="232.73" width="1" height="0.5"/>
<rect x="253" y="232.75" width="1" height="0.5"/>
<rect x="254" y="232.76" width="1" height="0.5"/>
<rect x="255" y="232.78" width="1" height="0.5"/>
<rect x="256" y="232.80" width="1" height="0.5"/>
<rect x="257" y="232.81" width="1" height="0.5"/>
<rect x="258" y="232.83" width="1" height="0.5"/>
<rect x="259" y="232.84" width="1" height="0.5"/>
<rect x="260" y="232.85" width="1" height="0.5"/>
<rect x="261" y="232.87" width="1" height="0.5"/>
<rect x="262" y="232.88" width="1" height="0.5"/>
<rect x="263" y="232.89" width="1" height="0.5"/>
<rect x="264" y="232.90" width="1" height="0.5"/>
<rect x="265" y="232.92" width="1" height="0.5"/>
<rect x="266" y="232.93" width="1" height="0.5"/>
<rect x="267" y="232.94" width="1" height="0.5"/>
<rect x="268" y="232.95" width="1" height="0.5"/>
<rect x="269" y="232.96" width="1" height="0.5"/>
<rect x="270" y="232.97" width="1" height="0.5"/>
<rect x="271" y="232.98" width="1" height="0.5"/>
<rect x="272" y="232.99" width="1" height="0.5"/>
<rect x="273" y="232.99" width="1" height="0.5"/>
<rect x="274" y="233.01" width="2" height="0.5"/>
<rect x="276" y="233.02" width="2" height="0.5"/>
<rect x="278" y="233.04" width="2" height="0.5"/>
<rect x="280" y="233.05" width="2" height="0.5"/>
<rect x="282" y="233.06" width="2" height="0.5"/>
<rect x="284" y="233.07" width="2" height="0.5"/>
<rect x="286" y="233.08" width="2" height="0.5"/>
<rect x="288" y="233.09" width="2" height="0.5"/>
<rect x="290" y="233.10" width="2" height="0.5"/>
<rect x="292" y="233.11" width="3" height="0.5"/>
<rect x="295" y="233.12" width="3" height="0.5"/>
<rect x="298" y="233.13" width="3" height="0.5"/>
<rect x="301" y="233.14" width="3" height="0.5"/>
<rect x="304" y="233.15" width="4" height="0.5"/>
<rect x="308" y="233.16" width="4" height="0.5"/>
<rect x="312" y="233.17" width="5" height="0.5"/>
<rect x="317" y="233.18" width="6" height="0.5"/>
<rect x="323" y="233.19" width="7" height="0.5"/>
<rect x="330" y="233.20" width="10" height="0.5"/>
<rect x="340" y="233.21" width="15" height="0.5"/>
<rect x="355" y="233.21" width="37" height="0.5"/>
<rect x="392" y="233.22" width="180.3" height="0.5"/>
</g>
<path fill="#E69F00" d="M88.71 47.99L88.91 49.98L89.11 51.93L89.31 53.85L89.51 55.74L89.71 57.61L89.91 59.44L90.11 61.24L90.31 63.02L90.51 64.77L90.71 66.50L90.91 68.19L91.11 69.86L91.31 71.51L91.51 73.13L91.71 74.73L91.91 76.30L92.11 77.85L92.31 79.38L92.51 80.89L92.71 82.37L92.91 83.83L93.11 85.27L93.31 86.69L93.51 88.09L93.71 89.46L93.91 90.82L94.11 92.16L94.31 93.48L94.51 94.78L94.71 96.07L94.91 97.36L95.12 98.65L95.33 99.93L95.54 101.21L95.75 102.48L95.97 103.76L96.19 105.03L96.41 106.30L96.64 107.56L96.87 108.83L97.10 110.08L97.34 111.34L97.57 112.59L97.81 113.84L98.06 115.09L98.31 116.33L98.56 117.57L98.81 118.81L99.07 120.04L99.33 121.27L99.60 122.49L99.87 123.71L100.15 124.93L100.42 126.14L100.71 127.35L100.99 128.55L101.28 129.75L101.58 130.94L101.88 132.13L102.18 133.32L102.49 134.50L102.81 135.68L103.12 136.85L103.45 138.01L103.78 139.17L104.11 140.33L104.45 141.48L104.80 142.62L105.15 143.76L105.51 144.89L105.87 146.01L106.24 147.13L106.62 148.25L107.00 149.35L107.39 150.45L107.79 151.55L108.19 152.63L108.60 153.71L109.02 154.78L109.44 155.85L109.88 156.90L110.32 157.95L110.77 158.99L111.23 160.02L111.69 161.04L112.17 162.06L112.65 163.06L113.15 164.06L113.65 165.04L114.16 166.02L114.69 166.99L115.22 167.94L115.77 168.89L116.32 169.82L116.89 170.75L117.47 171.66L118.06 172.56L118.66 173.45L119.27 174.32L119.90 175.19L120.54 176.04L121.19 176.88L121.86 177.70L122.54 178.51L123.23 179.31L123.94 180.09L124.66 180.86L125.40 181.62L126.15 182.36L126.92 183.08L127.71 183.79L128.51 184.48L129.32 185.16L130.16 185.82L131.01 186.46L131.87 187.09L132.76 187.70L133.66 188.29L134.57 188.87L135.51 189.42L136.46 189.97L137.43 190.49L138.42 191.00L139.42 191.48L140.45 191.96L141.48 192.41L142.54 192.85L143.62 193.27L144.71 193.67L145.81 194.06L146.94 194.43L148.08 194.79L149.23 195.12L150.41 195.45L151.59 195.75L151.94 195.84L152.06 195.36L151.72 195.27L150.53 194.96L149.37 194.64L148.22 194.31L147.09 193.95L145.97 193.59L144.88 193.20L143.79 192.80L142.73 192.39L141.68 191.95L140.65 191.50L139.64 191.03L138.64 190.55L137.66 190.05L136.70 189.53L135.76 188.99L134.83 188.44L133.93 187.87L133.04 187.28L132.16 186.68L131.30 186.06L130.46 185.42L129.64 184.77L128.83 184.10L128.04 183.41L127.26 182.71L126.50 182.00L125.75 181.26L125.02 180.52L124.31 179.76L123.61 178.98L122.92 178.19L122.24 177.39L121.58 176.57L120.94 175.74L120.30 174.89L119.68 174.03L119.07 173.16L118.47 172.28L117.89 171.39L117.31 170.48L116.75 169.56L116.20 168.64L115.66 167.70L115.13 166.75L114.61 165.79L114.09 164.81L113.59 163.83L113.10 162.84L112.62 161.84L112.15 160.83L111.68 159.82L111.23 158.79L110.78 157.75L110.34 156.71L109.91 155.66L109.48 154.60L109.07 153.53L108.66 152.46L108.26 151.37L107.86 150.29L107.47 149.19L107.09 148.09L106.72 146.98L106.35 145.86L105.98 144.74L105.63 143.61L105.28 142.47L104.93 141.33L104.59 140.19L104.26 139.03L103.93 137.88L103.61 136.71L103.29 135.54L102.97 134.37L102.67 133.19L102.36 132.01L102.06 130.82L101.77 129.63L101.48 128.43L101.19 127.23L100.91 126.03L100.63 124.81L100.36 123.60L100.09 122.38L99.82 121.16L99.56 119.93L99.30 118.70L99.05 117.47L98.80 116.23L98.55 114.99L98.31 113.75L98.06 112.50L97.83 111.25L97.59 109.99L97.36 108.74L97.13 107.48L96.91 106.21L96.68 104.94L96.46 103.67L96.25 102.40L96.03 101.13L95.82 99.85L95.61 98.57L95.41 97.28L95.20 96.00L95.00 94.71L94.80 93.41L94.60 92.09L94.40 90.75L94.20 89.39L94.00 88.01L93.80 86.62L93.60 85.20L93.40 83.76L93.20 82.30L93.00 80.82L92.80 79.31L92.60 77.79L92.40 76.24L92.20 74.67L92.00 73.07L91.80 71.45L91.60 69.80L91.40 68.13L91.20 66.44L91.00 64.71L90.80 62.97L90.60 61.19L90.40 59.38L90.20 57.55L90.00 55.69L89.80 53.80L89.60 51.88L89.40 49.92L89.20 47.94L89.00 45.93L89.00 45.87L88.50 45.87L88.51 45.97Z"/>
<g fill="#E69F00">
<rect x="152" y="195.47" width="1" height="0.5"/>
<rect x="153" y="195.71" width="1" height="0.5"/>
<rect x="154" y="195.93" width="1" height="0.5"/>
<rect x="155" y="196.14" width="1" height="0.5"/>
<rect x="156" y="196.34" width="1" height="0.5"/>
<rect x="157" y="196.53" width="1" height="0.5"/>
<rect x="158" y="196.71" width="1" height="0.5"/>
<rect x="159" y="196.88" width="1" height="0.5"/>
<rect x="160" y="197.05" width="1" height="0.5"/>
<rect x="161" y="197.20" width="1" height="0.5"/>
<rect x="162" y="197.35" width="1" height="0.5"/>
<rect x="163" y="197.49" width="1" height="0.5"/>
<rect x="164" y="197.62" width="1" height="0.5"/>
<rect x="165" y="197.75" width="1" height="0.5"/>
<rect x="166" y="197.87" width="1" height="0.5"/>
<rect x="167" y="197.98" width="1" height="0.5"/>
<rect x="168" y="198.09" width="1" height="0.5"/>
<rect x="169" y="198.19" width="1" height="0.5"/>
<rect x="170" y="198.29" width="1" height="0.5"/>
<rect x="171" y="198.38" width="1" height="0.5"/>
<rect x="172" y="198.47" width="1" height="0.5"/>
<rect x="173" y="198.56" width="1" height="0.5"/>
<rect x="174" y="198.64" width="1" height="0.5"/>
<rect x="175" y="198.71" width="1" height="0.5"/>
<rect x="176" y="198.78" width="1" height="0.5"/>
<rect x="177" y="198.85" width="1" height="0.5"/>
<rect x="178" y="198.92" width="1" height="0.5"/>
<rect x="179" y="198.98" width="1" height="0.5"/>
<rect x="180" y="199.04" width="1" height="0.5"/>
<rect x="181" y="199.09" width="1" height="0.5"/>
<rect x="182" y="199.14" width="1" height="0.5"/>
<rect x="183" y="199.19" width="1" height="0.5"/>
<rect x="184" y="199.24" width="1" height="0.5"/>
<rect x="185" y="199.29" width="1" height="0.5"/>
<rect x="186" y="199.33" width="1" height="0.5"/>
<rect x="187" y="199.37" width="1" height="0.5"/>
<rect x="188" y="199.41" width="1" height="0.5"/>
<rect x="189" y="199.45" width="1" height="0.5"/>
<rect x="190" y="199.48" width="1" height="0.5"/>
<rect x="191" y="199.51" width="1" height="0.5"/>
<rect x="192" y="199.55" width="1" height="0.5"/>
<rect x="193" y="199.58" width="1" height="0.5"/>
<rect x="194" y="199.60" width="1" height="0.5"/>
<rect x="195" y="199.63" width="1" height="0.5"/>
<rect x="196" y="199.66" width="1" height="0.5"/>
<rect x="197" y="199.68" width="1" height="0.5"/>
<rect x="198" y="199.71" width="1" height="0.5"/>
<rect x="199" y="199.73" width="1" height="0.5"/>
<rect x="200" y="199.75" width="1" height="0.5"/>
<rect x="201" y="199.77" width="1" height="0.5"/>
<rect x="202" y="199.79" width="1" height="0.5"/>
<rect x="203" y="199.81" width="1" height="0.5"/>
<rect x="204" y="199.82" width="1" height="0.5"/>
<rect x="205" y="199.84" width="1" height="0.5"/>
<rect x="206" y="199.85" width="1" height="0.5"/>
<rect x="207" y="199.87" width="1" height="0.5"/>
<rect x="208" y="199.88" width="1" height="0.5"/>
<rect x="209" y="199.90" width="1" height="0.5"/>
<rect x="210" y="199.91" width="1" height="0.5"/>
<rect x="211" y="199.92" width="1" height="0.5"/>
<rect x="212" y="199.93" width="1" height="0.5"/>
<rect x="213" y="199.94" width="1" height="0.5"/>
<rect x="214" y="199.95" width="1" height="0.5"/>
<rect x="215" y="199.96" width="1" height="0.5"/>
<rect x="216" y="199.97" width="1" height="0.5"/>
<rect x="217" y="199.98" width="1" height="0.5"/>
<rect x="218" y="199.99" width="2" height="0.5"/>
<rect x="220" y="200.01" width="2" height="0.5"/>
<rect x="222" y="200.02" width="2" height="0.5"/>
<rect x="224" y="200.03" width="2" height="0.5"/>
<rect x="226" y="200.05" width="2" height="0.5"/>
<rect x="228" y="200.06" width="2" height="0.5"/>
<rect x="230" y="200.07" width="2" height="0.5"/>
<rect x="232" y="200.08" width="3" height="0.5"/>
<rect x="235" y="200.09" width="3" height="0.5"/>
<rect x="238" y="200.10" width="3" height="0.5"/>
<rect x="241" y="200.10" width="4" height="0.5"/>
<rect x="245" y="200.11" width="5" height="0.5"/>
<rect x="250" y="200.12" width="6" height="0.5"/>
<rect x="256" y="200.13" width="9" height="0.5"/>
<rect x="265" y="200.14" width="16" height="0.5"/>
<rect x="281" y="200.15" width="291.3" height="0.5"/>
</g>
<path fill="#F0E442" d="M82.46 48.06L82.66 50.10L82.86 52.10L83.06 54.06L83.26 55.98L83.46 57.87L83.66 59.72L83.86 61.53L84.06 63.31L84.26 65.06L84.46 66.77L84.66 68.45L84.86 70.10L85.06 71.72L85.26 73.31L85.46 74.87L85.66 76.40L85.86 77.90L86.06 79.38L86.26 80.83L86.46 82.25L86.66 83.65L86.86 85.02L87.06 86.37L87.26 87.70L87.47 89.00L87.67 90.29L87.87 91.57L88.08 92.86L88.29 94.13L88.50 95.41L88.72 96.68L88.94 97.95L89.17 99.21L89.40 100.47L89.63 101.73L89.86 102.98L90.10 104.23L90.35 105.47L90.60 106.71L90.85 107.95L91.11 109.18L91.37 110.41L91.63 111.63L91.90 112.85L92.18 114.06L92.46 115.27L92.75 116.47L93.04 117.67L93.33 118.86L93.64 120.04L93.94 121.22L94.26 122.39L94.58 123.56L94.91 124.72L95.24 125.88L95.58 127.02L95.92 128.17L96.28 129.30L96.64 130.42L97.01 131.54L97.38 132.65L97.77 133.76L98.16 134.85L98.56 135.94L98.97 137.01L99.39 138.08L99.82 139.14L100.26 140.19L100.70 141.23L101.16 142.26L101.63 143.28L102.11 144.29L102.60 145.28L103.10 146.27L103.62 147.24L104.14 148.20L104.68 149.15L105.24 150.08L105.80 151.01L106.38 151.91L106.98 152.81L107.59 153.69L108.21 154.55L108.85 155.40L109.51 156.23L110.18 157.05L110.87 157.85L111.57 158.64L112.30 159.40L113.04 160.15L113.80 160.88L114.58 161.59L115.38 162.28L116.20 162.95L117.04 163.60L117.90 164.24L118.78 164.85L119.68 165.44L120.60 166.01L121.54 166.56L122.51 167.09L123.49 167.60L124.50 168.09L125.52 168.55L126.57 169.00L127.64 169.42L128.73 169.83L129.83 170.21L130.96 170.58L132.11 170.92L133.28 171.25L134.46 171.56L134.94 171.68L135.06 171.19L134.59 171.07L133.41 170.77L132.25 170.44L131.11 170.10L129.99 169.74L128.89 169.36L127.82 168.96L126.76 168.54L125.72 168.10L124.71 167.63L123.71 167.15L122.74 166.65L121.79 166.13L120.86 165.58L119.95 165.02L119.06 164.43L118.19 163.83L117.34 163.21L116.51 162.56L115.70 161.90L114.91 161.21L114.14 160.51L113.39 159.79L112.66 159.05L111.94 158.30L111.24 157.52L110.56 156.73L109.90 155.92L109.25 155.10L108.61 154.26L107.99 153.40L107.39 152.53L106.80 151.64L106.23 150.74L105.66 149.83L105.12 148.90L104.58 147.96L104.06 147.00L103.55 146.04L103.05 145.06L102.56 144.07L102.08 143.07L101.62 142.05L101.16 141.03L100.72 140.00L100.28 138.95L99.86 137.90L99.44 136.83L99.03 135.76L98.63 134.68L98.24 133.59L97.86 132.49L97.48 131.39L97.11 130.27L96.75 129.15L96.40 128.02L96.06 126.88L95.72 125.74L95.39 124.59L95.06 123.43L94.74 122.26L94.43 121.09L94.12 119.92L93.82 118.73L93.52 117.55L93.23 116.35L92.95 115.15L92.67 113.95L92.39 112.74L92.12 111.52L91.86 110.30L91.59 109.08L91.34 107.85L91.09 106.62L90.84 105.38L90.59 104.13L90.35 102.89L90.12 101.64L89.89 100.38L89.66 99.12L89.43 97.86L89.21 96.59L89.00 95.33L88.78 94.05L88.57 92.77L88.36 91.49L88.16 90.21L87.96 88.92L87.76 87.62L87.56 86.30L87.36 84.95L87.16 83.58L86.96 82.18L86.76 80.76L86.56 79.31L86.36 77.83L86.16 76.33L85.96 74.80L85.76 73.24L85.56 71.66L85.36 70.04L85.16 68.39L84.96 66.71L84.76 65.00L84.56 63.25L84.36 61.48L84.16 59.66L83.96 57.81L83.76 55.93L83.56 54.01L83.36 52.05L83.16 50.05L82.96 48.01L82.76 45.93L82.76 45.87L82.25 45.87L82.26 45.97Z"/>
<g fill="#F0E442">
<rect x="135" y="171.30" width="1" height="0.5"/>
<rect x="136" y="171.53" width="1" height="0.5"/>
<rect x="137" y="171.75" width="1" height="0.5"/>
<rect x="138" y="171.95" width="1" height="0.5"/>
<rect x="139" y="172.14" width="1" height="0.5"/>
<rect x="140" y="172.32" width="1" height="0.5"/>
<rect x="141" y="172.48" width="1" height="0.5"/>
<rect x="142" y="172.64" width="1" height="0.5"/>
<rect x="143" y="172.79" width="1" height="0.5"/>
<rect x="144" y="172.93" width="1" height="0.5"/>
<rect x="145" y="173.06" width="1" height="0.5"/>
<rect x="146" y="173.18" width="1" height="0.5"/>
<rect x="147" y="173.29" width="1" height="0.5"/>
<rect x="148" y="173.40" width="1" height="0.5"/>
<rect x="149" y="173.50" width="1" height="0.5"/>
<rect x="150" y="173.60" width="1" height="0.5"/>
<rect x="151" y="173.69" width="1" height="0.5"/>
<rect x="152" y="173.77" width="1" height="0.5"/>
<rect x="153" y="173.85" width="1" height="0.5"/>
<rect x="154" y="173.93" width="1" height="0.5"/>
<rect x="155" y="174.00" width="1" height="0.5"/>
<rect x="156" y="174.06" width="1" height="0.5"/>
<rect x="157" y="174.13" width="1" height="0.5"/>
<rect x="158" y="174.18" width="1" height="0.5"/>
<rect x="159" y="174.24" width="1" height="0.5"/>
<rect x="160" y="174.29" width="1" height="0.5"/>
<rect x="161" y="174.34" width="1" height="0.5"/>
<rect x="162" y="174.38" width="1" height="0.5"/>
<rect x="163" y="174.43" width="1" height="0.5"/>
<rect x="164" y="174.47" width="1" height="0.5"/>
<rect x="165" y="174.51" width="1" height="0.5"/>
<rect x="166" y="174.54" width="1" height="0.5"/>
<rect x="167" y="174.57" width="1" height="0.5"/>
<rect x="168" y="174.61" width="1" height="0.5"/>
<rect x="169" y="174.64" width="1" height="0.5"/>
<rect x="170" y="174.66" width="1" height="0.5"/>
<rect x="171" y="174.69" width="1" height="0.5"/>
<rect x="172" y="174.71" width="1" height="0.5"/>
<rect x="173" y="174.74" width="1" height="0.5"/>
<rect x="174" y="174.76" width="1" height="0.5"/>
<rect x="175" y="174.78" width="1" height="0.5"/>
<rect x="176" y="174.80" width="1" height="0.5"/>
<rect x="177" y="174.82" width="1" height="0.5"/>
<rect x="178" y="174.83" width="1" height="0.5"/>
<rect x="179" y="174.85" width="1" height="0.5"/>
<rect x="180" y="174.86" width="1" height="0.5"/>
<rect x="181" y="174.88" width="1" height="0.5"/>
<rect x="182" y="174.89" width="1" height="0.5"/>
<rect x="183" y="174.90" width="1" height="0.5"/>
<rect x="184" y="174.92" width="1" height="0.5"/>
<rect x="185" y="174.93" width="1" height="0.5"/>
<rect x="186" y="174.94" width="1" height="0.5"/>
<rect x="187" y="174.95" width="1" height="0.5"/>
<rect x="188" y="174.96" width="1" height="0.5"/>
<rect x="189" y="174.96" width="1" height="0.5"/>
<rect x="190" y="174.98" width="2" height="0.5"/>
<rect x="192" y="174.99" width="2" height="0.5"/>
<rect x="194" y="175.00" width="2" height="0.5"/>
<rect x="196" y="175.01" width="2" height="0.5"/>
<rect x="198" y="175.02" width="2" height="0.5"/>
<rect x="200" y="175.04" width="3" height="0.5"/>
<rect x="203" y="175.05" width="3" height="0.5"/>
<rect x="206" y="175.06" width="3" height="0.5"/>
<rect x="209" y="175.06" width="4" height="0.5"/>
<rect x="213" y="175.07" width="5" height="0.5"/>
<rect x="218" y="175.08" width="8" height="0.5"/>
<rect x="226" y="175.09" width="14" height="0.5"/>
<rect x="240" y="175.10" width="332.3" height="0.5"/>
</g>
<path fill="#0072B2" d="M78.55 48.10L78.75 50.18L78.95 52.21L79.15 54.19L79.35 56.13L79.55 58.02L79.75 59.87L79.95 61.67L80.15 63.44L80.35 65.16L80.55 66.85L80.75 68.50L80.95 70.11L81.15 71.69L81.35 73.23L81.55 74.74L81.75 76.22L81.95 77.67L82.15 79.08L82.35 80.46L82.55 81.82L82.75 83.15L82.95 84.45L83.15 85.73L83.36 87.01L83.57 88.29L83.78 89.56L84.00 90.83L84.22 92.10L84.44 93.36L84.68 94.61L84.91 95.87L85.15 97.11L85.39 98.35L85.64 99.59L85.90 100.82L86.16 102.05L86.43 103.27L86.70 104.48L86.97 105.69L87.26 106.89L87.55 108.09L87.84 109.28L88.15 110.46L88.46 111.64L88.77 112.80L89.10 113.96L89.43 115.12L89.77 116.26L90.12 117.40L90.47 118.53L90.84 119.65L91.21 120.76L91.60 121.86L91.99 122.95L92.40 124.03L92.81 125.10L93.24 126.15L93.68 127.20L94.13 128.24L94.59 129.26L95.06 130.27L95.55 131.27L96.05 132.25L96.57 133.22L97.10 134.17L97.64 135.11L98.21 136.04L98.78 136.94L99.38 137.83L99.99 138.71L100.62 139.56L101.27 140.40L101.94 141.22L102.64 142.01L103.35 142.79L104.08 143.55L104.83 144.28L105.61 144.99L106.41 145.68L107.23 146.35L108.08 146.99L108.95 147.61L109.85 148.21L110.77 148.78L111.71 149.32L112.68 149.84L113.68 150.34L114.70 150.81L115.75 151.25L116.82 151.67L117.91 152.07L119.03 152.44L120.17 152.79L121.34 153.12L122.53 153.43L122.94 153.53L123.06 153.04L122.65 152.94L121.47 152.64L120.32 152.31L119.18 151.97L118.08 151.60L116.99 151.20L115.94 150.79L114.90 150.35L113.90 149.88L112.91 149.40L111.96 148.88L111.02 148.35L110.12 147.78L109.23 147.20L108.38 146.59L107.54 145.96L106.73 145.30L105.94 144.62L105.18 143.92L104.43 143.19L103.71 142.45L103.01 141.68L102.33 140.89L101.67 140.09L101.02 139.26L100.40 138.42L99.79 137.55L99.20 136.67L98.63 135.77L98.07 134.86L97.53 133.93L97.01 132.98L96.49 132.02L96.00 131.04L95.51 130.05L95.04 129.05L94.58 128.03L94.14 127.00L93.70 125.96L93.28 124.91L92.86 123.85L92.46 122.77L92.07 121.69L91.69 120.59L91.31 119.49L90.95 118.37L90.59 117.25L90.25 116.12L89.91 114.98L89.58 113.83L89.25 112.67L88.94 111.51L88.63 110.33L88.33 109.15L88.03 107.97L87.74 106.78L87.46 105.58L87.18 104.37L86.91 103.16L86.65 101.94L86.39 100.72L86.13 99.49L85.89 98.26L85.64 97.02L85.40 95.77L85.17 94.52L84.94 93.27L84.71 92.01L84.49 90.75L84.27 89.48L84.06 88.21L83.85 86.93L83.64 85.65L83.44 84.37L83.24 83.07L83.04 81.75L82.84 80.39L82.64 79.01L82.44 77.60L82.24 76.15L82.04 74.68L81.84 73.17L81.64 71.63L81.44 70.05L81.24 68.44L81.04 66.79L80.84 65.11L80.64 63.38L80.44 61.62L80.24 59.81L80.04 57.97L79.84 56.08L79.64 54.14L79.44 52.16L79.24 50.13L79.04 48.06L78.84 45.93L78.84 45.87L78.34 45.87L78.35 45.97Z"/>
<g fill="#0072B2">
<rect x="123" y="153.15" width="1" height="0.5"/>
<rect x="124" y="153.37" width="1" height="0.5"/>
<rect x="125" y="153.58" width="1" height="0.5"/>
<rect x="126" y="153.77" width="1" height="0.5"/>
<rect x="127" y="153.95" width="1" height="0.5"/>
<rect x="128" y="154.11" width="1" height="0.5"/>
<rect x="129" y="154.26" width="1" height="0.5"/>
<rect x="130" y="154.40" width="1" height="0.5"/>
<rect x="131" y="154.54" width="1" height="0.5"/>
<rect x="132" y="154.66" width="1" height="0.5"/>
<rect x="133" y="154.77" width="1" height="0.5"/>
<rect x="134" y="154.88" width="1" height="0.5"/>
<rect x="135" y="154.97" width="1" height="0.5"/>
<rect x="136" y="155.06" width="1" height="0.5"/>
<rect x="137" y="155.15" width="1" height="0.5"/>
<rect x="138" y="155.23" width="1" height="0.5"/>
<rect x="139" y="155.30" width="1" height="0.5"/>
<rect x="140" y="155.37" width="1" height="0.5"/>
<rect x="141" y="155.43" width="1" height="0.5"/>
<rect x="142" y="155.49" width="1" height="0.5"/>
<rect x="143" y="155.54" width="1" height="0.5"/>
<rect x="144" y="155.59" width="1" height="0.5"/>
<rect x="145" y="155.64" width="1" height="0.5"/>
<rect x="146" y="155.68" width="1" height="0.5"/>
<rect x="147" y="155.72" width="1" height="0.5"/>
<rect x="148" y="155.76" width="1" height="0.5"/>
<rect x="149" y="155.80" width="1" height="0.5"/>
<rect x="150" y="155.83" width="1" height="0.5"/>
<rect x="151" y="155.86" width="1" height="0.5"/>
<rect x="152" y="155.89" width="1" height="0.5"/>
<rect x="153" y="155.91" width="1" height="0.5"/>
<rect x="154" y="155.94" width="1" height="0.5"/>
<rect x="155" y="155.96" width="1" height="0.5"/>
<rect x="156" y="155.98" width="1" height="0.5"/>
<rect x="157" y="156.00" width="1" height="0.5"/>
<rect x="158" y="156.02" width="1" height="0.5"/>
<rect x="159" y="156.03" width="1" height="0.5"/>
<rect x="160" y="156.05" width="1" height="0.5"/>
<rect x="161" y="156.06" width="1" height="0.5"/>
<rect x="162" y="156.08" width="1" height="0.5"/>
<rect x="163" y="156.09" width="1" height="0.5"/>
<rect x="164" y="156.10" width="1" height="0.5"/>
<rect x="165" y="156.11" width="1" height="0.5"/>
<rect x="166" y="156.12" width="1" height="0.5"/>
<rect x="167" y="156.13" width="1" height="0.5"/>
<rect x="168" y="156.14" width="2" height="0.5"/>
<rect x="170" y="156.16" width="2" height="0.5"/>
<rect x="172" y="156.17" width="2" height="0.5"/>
<rect x="174" y="156.18" width="2" height="0.5"/>
<rect x="176" y="156.19" width="2" height="0.5"/>
<rect x="178" y="156.20" width="3" height="0.5"/>
<rect x="181" y="156.21" width="3" height="0.5"/>
<rect x="184" y="156.22" width="4" height="0.5"/>
<rect x="188" y="156.23" width="6" height="0.5"/>
<rect x="194" y="156.24" width="9" height="0.5"/>
<rect x="203" y="156.25" width="37" height="0.5"/>
<rect x="240" y="156.25" width="332.3" height="0.5"/>
</g>
<path fill="#E51E10" d="M75.57 48.14L75.77 50.24L75.97 52.29L76.17 54.28L76.37 56.22L76.57 58.10L76.77 59.93L76.97 61.72L77.17 63.45L77.37 65.14L77.57 66.79L77.77 68.40L77.97 69.96L78.17 71.48L78.37 72.97L78.57 74.42L78.77 75.83L78.97 77.20L79.17 78.55L79.37 79.86L79.58 81.14L79.78 82.42L79.99 83.69L80.21 84.96L80.42 86.23L80.65 87.49L80.88 88.74L81.11 89.99L81.35 91.24L81.60 92.48L81.85 93.71L82.11 94.93L82.38 96.15L82.65 97.36L82.92 98.57L83.21 99.77L83.50 100.96L83.80 102.14L84.11 103.31L84.43 104.48L84.75 105.63L85.09 106.78L85.43 107.92L85.79 109.05L86.15 110.17L86.53 111.27L86.91 112.37L87.31 113.45L87.72 114.52L88.15 115.58L88.58 116.63L89.03 117.66L89.50 118.68L89.98 119.68L90.47 120.66L90.99 121.63L91.52 122.59L92.06 123.52L92.63 124.44L93.22 125.34L93.82 126.21L94.45 127.07L95.10 127.90L95.78 128.72L96.47 129.50L97.19 130.27L97.94 131.01L98.71 131.72L99.52 132.41L100.34 133.07L101.20 133.70L102.08 134.30L103.00 134.88L103.94 135.43L104.91 135.94L105.91 136.43L106.95 136.89L108.01 137.32L109.10 137.72L110.21 138.10L111.36 138.44L112.53 138.76L113.72 139.06L113.94 139.11L114.06 138.62L113.84 138.57L112.65 138.28L111.49 137.96L110.36 137.62L109.26 137.25L108.19 136.85L107.14 136.43L106.13 135.98L105.14 135.50L104.18 134.99L103.26 134.45L102.36 133.89L101.49 133.29L100.65 132.67L99.83 132.02L99.05 131.35L98.29 130.65L97.55 129.92L96.84 129.17L96.16 128.39L95.49 127.59L94.85 126.77L94.23 125.92L93.63 125.06L93.05 124.17L92.49 123.26L91.95 122.34L91.43 121.40L90.92 120.44L90.43 119.46L89.95 118.46L89.49 117.45L89.04 116.43L88.61 115.39L88.19 114.34L87.78 113.28L87.38 112.20L87.00 111.11L86.63 110.01L86.26 108.90L85.91 107.77L85.57 106.64L85.23 105.50L84.91 104.34L84.59 103.18L84.29 102.01L83.99 100.83L83.70 99.65L83.41 98.45L83.13 97.25L82.86 96.04L82.60 94.83L82.34 93.61L82.09 92.38L81.84 91.14L81.60 89.90L81.37 88.65L81.14 87.40L80.92 86.14L80.70 84.88L80.48 83.61L80.27 82.34L80.07 81.06L79.87 79.78L79.67 78.47L79.47 77.13L79.27 75.76L79.07 74.35L78.87 72.90L78.67 71.42L78.47 69.89L78.27 68.33L78.07 66.73L77.87 65.08L77.67 63.39L77.47 61.66L77.27 59.88L77.07 58.05L76.87 56.16L76.67 54.23L76.47 52.24L76.27 50.20L76.07 48.09L75.87 45.93L75.86 45.87L75.36 45.87L75.37 45.97Z"/>
<g fill="#E51E10">
<rect x="114" y="138.73" width="1" height="0.5"/>
<rect x="115" y="138.94" width="1" height="0.5"/>
<rect x="116" y="139.13" width="1" height="0.5"/>
<rect x="117" y="139.31" width="1" height="0.5"/>
<rect x="118" y="139.47" width="1" height="0.5"/>
<rect x="119" y="139.62" width="1" height="0.5"/>
<rect x="120" y="139.75" width="1" height="0.5"/>
<rect x="121" y="139.88" width="1" height="0.5"/>
<rect x="122" y="139.99" width="1" height="0.5"/>
<rect x="123" y="140.10" width="1" height="0.5"/>
<rect x="124" y="140.19" width="1" height="0.5"/>
<rect x="125" y="140.28" width="1" height="0.5"/>
<rect x="126" y="140.36" width="1" height="0.5"/>
<rect x="127" y="140.43" width="1" height="0.5"/>
<rect x="128" y="140.50" width="1" height="0.5"/>
<rect x="129" y="140.56" width="1" height="0.5"/>
<rect x="130" y="140.62" width="1" height="0.5"/>
<rect x="131" y="140.67" width="1" height="0.5"/>
<rect x="132" y="140.72" width="1" height="0.5"/>
<rect x="133" y="140.76" width="1" height="0.5"/>
<rect x="134" y="140.80" width="1" height="0.5"/>
<rect x="135" y="140.84" width="1" height="0.5"/>
<rect x="136" y="140.88" width="1" height="0.5"/>
<rect x="137" y="140.91" width="1" height="0.5"/>
<rect x="138" y="140.94" width="1" height="0.5"/>
<rect x="139" y="140.96" width="1" height="0.5"/>
<rect x="140" y="140.99" width="1" height="0.5"/>
<rect x="141" y="141.01" width="1" height="0.5"/>
<rect x="142" y="141.03" width="1" height="0.5"/>
<rect x="143" y="141.05" width="1" height="0.5"/>
<rect x="144" y="141.06" width="1" height="0.5"/>
<rect x="145" y="141.08" width="1" height="0.5"/>
<rect x="146" y="141.09" width="1" height="0.5"/>
<rect x="147" y="141.11" width="1" height="0.5"/>
<rect x="148" y="141.12" width="1" height="0.5"/>
<rect x="149" y="141.13" width="1" height="0.5"/>
<rect x="150" y="141.14" width="1" height="0.5"/>
<rect x="151" y="141.15" width="1" height="0.5"/>
<rect x="152" y="141.16" width="2" height="0.5"/>
<rect x="154" y="141.17" width="2" height="0.5"/>
<rect x="156" y="141.19" width="2" height="0.5"/>
<rect x="158" y="141.20" width="2" height="0.5"/>
<rect x="160" y="141.21" width="3" height="0.5"/>
<rect x="163" y="141.22" width="3" height="0.5"/>
<rect x="166" y="141.23" width="4" height="0.5"/>
<rect x="170" y="141.23" width="6" height="0.5"/>
<rect x="176" y="141.24" width="14" height="0.5"/>
<rect x="190" y="141.25" width="382.3" height="0.5"/>
</g>
<path fill="#000000" d="M73.60 48.11L73.80 50.19L74.00 52.20L74.20 54.15L74.40 56.03L74.60 57.86L74.80 59.64L75.00 61.36L75.20 63.03L75.40 64.66L75.60 66.23L75.80 67.76L76.00 69.25L76.20 70.69L76.40 72.10L76.60 73.46L76.80 74.79L77.00 76.08L77.20 77.36L77.41 78.64L77.63 79.90L77.85 81.17L78.07 82.42L78.30 83.68L78.54 84.92L78.78 86.16L79.03 87.39L79.29 88.62L79.55 89.83L79.83 91.04L80.10 92.24L80.39 93.44L80.69 94.62L80.99 95.80L81.31 96.97L81.63 98.12L81.96 99.27L82.31 100.41L82.66 101.53L83.03 102.64L83.41 103.74L83.80 104.83L84.21 105.91L84.62 106.97L85.06 108.01L85.51 109.04L85.97 110.06L86.46 111.06L86.96 112.04L87.47 113.00L88.01 113.94L88.57 114.86L89.15 115.76L89.76 116.64L90.38 117.50L91.03 118.33L91.71 119.14L92.42 119.92L93.15 120.67L93.91 121.40L94.70 122.09L95.52 122.76L96.37 123.40L97.25 124.00L98.16 124.58L99.11 125.12L100.09 125.63L101.10 126.10L102.14 126.55L103.22 126.96L104.33 127.35L105.46 127.70L106.63 128.02L107.82 128.32L107.94 128.35L108.06 127.86L107.94 127.83L106.76 127.54L105.60 127.22L104.48 126.87L103.39 126.49L102.33 126.09L101.30 125.65L100.31 125.18L99.35 124.68L98.42 124.15L97.52 123.58L96.66 122.99L95.82 122.37L95.02 121.71L94.24 121.03L93.50 120.32L92.78 119.58L92.09 118.81L91.42 118.02L90.78 117.20L90.16 116.35L89.57 115.49L89.00 114.60L88.44 113.69L87.91 112.76L87.40 111.80L86.90 110.83L86.43 109.85L85.96 108.84L85.52 107.82L85.09 106.78L84.67 105.73L84.27 104.66L83.88 103.58L83.50 102.48L83.14 101.38L82.79 100.26L82.44 99.13L82.11 97.99L81.79 96.83L81.48 95.67L81.17 94.50L80.88 93.32L80.59 92.13L80.31 90.93L80.04 89.73L79.78 88.51L79.52 87.29L79.27 86.06L79.03 84.83L78.79 83.58L78.56 82.33L78.34 81.08L78.12 79.82L77.91 78.55L77.70 77.28L77.49 76.00L77.29 74.72L77.09 73.39L76.89 72.03L76.69 70.63L76.49 69.18L76.29 67.70L76.09 66.17L75.89 64.60L75.69 62.97L75.49 61.30L75.29 59.58L75.09 57.81L74.89 55.98L74.70 54.09L74.50 52.15L74.30 50.14L74.10 48.07L73.90 45.93L73.89 45.87L73.39 45.87L73.40 45.97Z"/>
<g fill="#000000">
<rect x="108" y="127.96" width="1" height="0.5"/>
<rect x="109" y="128.17" width="1" height="0.5"/>
<rect x="110" y="128.36" width="1" height="0.5"/>
<rect x="111" y="128.54" width="1" height="0.5"/>
<rect x="112" y="128.69" width="1" height="0.5"/>
<rect x="113" y="128.84" width="1" height="0.5"/>
<rect x="114" y="128.96" width="1" height="0.5"/>
<rect x="115" y="129.08" width="1" height="0.5"/>
<rect x="116" y="129.19" width="1" height="0.5"/>
<rect x="117" y="129.29" width="1" height="0.5"/>
<rect x="118" y="129.37" width="1" height="0.5"/>
<rect x="119" y="129.45" width="1" height="0.5"/>
<rect x="120" y="129.53" width="1" height="0.5"/>
<rect x="121" y="129.59" width="1" height="0.5"/>
<rect x="122" y="129.65" width="1" height="0.5"/>
<rect x="123" y="129.71" width="1" height="0.5"/>
<rect x="124" y="129.76" width="1" height="0.5"/>
<rect x="125" y="129.80" width="1" height="0.5"/>
<rect x="126" y="129.84" width="1" height="0.5"/>
<rect x="127" y="129.88" width="1" height="0.5"/>
<rect x="128" y="129.91" width="1" height="0.5"/>
<rect x="129" y="129.94" width="1" height="0.5"/>
<rect x="130" y="129.97" width="1" height="0.5"/>
<rect x="131" y="130.00" width="1" height="0.5"/>
<rect x="132" y="130.02" width="1" height="0.5"/>
<rect x="133" y="130.04" width="1" height="0.5"/>
<rect x="134" y="130.06" width="1" height="0.5"/>
<rect x="135" y="130.08" width="1" height="0.5"/>
<rect x="136" y="130.09" width="1" height="0.5"/>
<rect x="137" y="130.11" width="1" height="0.5"/>
<rect x="138" y="130.12" width="1" height="0.5"/>
<rect x="139" y="130.13" width="1" height="0.5"/>
<rect x="140" y="130.14" width="1" height="0.5"/>
<rect x="141" y="130.15" width="1" height="0.5"/>
<rect x="142" y="130.16" width="1" height="0.5"/>
<rect x="143" y="130.17" width="2" height="0.5"/>
<rect x="145" y="130.19" width="2" height="0.5"/>
<rect x="147" y="130.20" width="2" height="0.5"/>
<rect x="149" y="130.21" width="3" height="0.5"/>
<rect x="152" y="130.22" width="3" height="0.5"/>
<rect x="155" y="130.23" width="4" height="0.5"/>
<rect x="159" y="130.24" width="7" height="0.5"/>
<rect x="166" y="130.25" width="23" height="0.5"/>
<rect x="189" y="130.25" width="383.3" height="0.5"/>
</g>
<rect x="59.500" y="45.870" width="3.500" height="0.280" fill="#9400D3"/>
<rect x="63.000" y="45.870" width="10.646" height="0.280" fill="#000000"/>
<rect x="73.646" y="45.870" width="1.975" height="0.280" fill="#E51E10"/>
<rect x="75.621" y="45.870" width="2.973" height="0.280" fill="#0072B2"/>
<rect x="78.595" y="45.870" width="3.917" height="0.280" fill="#F0E442"/>
<rect x="82.512" y="45.870" width="6.244" height="0.280" fill="#E69F00"/>
<rect x="88.756" y="45.870" width="10.582" height="0.280" fill="#56B4E9"/>
<rect x="99.338" y="45.870" width="23.760" height="0.280" fill="#009E73"/>
<rect x="123.098" y="45.870" width="83.930" height="0.280" fill="#9400D3"/>
</g>
<g id="key">
<rect x="513.000" y="57.620" width="41.000" height="0.500" fill="#9400D3"/>
<rect x="513.000" y="72.910" width="41.000" height="0.500" fill="#009E73"/>
<rect x="513.000" y="88.200" width="41.000" height="0.500" fill="#56B4E9"/>
<rect x="513.000" y="103.490" width="41.000" height="0.500" fill="#E69F00"/>
<rect x="513.000" y="118.780" width="41.000" height="0.500" fill="#F0E442"/>
<rect x="513.000" y="134.070" width="41.000" height="0.500" fill="#0072B2"/>
<rect x="513.000" y="149.360" width="41.000" height="0.500" fill="#E51E10"/>
<rect x="513.000" y="164.650" width="41.000" height="0.500" fill="#000000"/>
</g>
<g id="tics" fill="#000">
<rect x="116.180" y="346.600" width="0.640" height="4.500" fill="#000"/>
<rect x="116.180" y="45.950" width="0.640" height="4.500" fill="#000"/>
<rect x="173.180" y="346.600" width="0.640" height="4.500" fill="#000"/>
<rect x="173.180" y="45.950" width="0.640" height="4.500" fill="#000"/>
<rect x="230.180" y="346.600" width="0.640" height="4.500" fill="#000"/>
<rect x="230.180" y="45.950" width="0.640" height="4.500" fill="#000"/>
<rect x="287.180" y="346.600" width="0.640" height="4.500" fill="#000"/>
<rect x="287.180" y="45.950" width="0.640" height="4.500" fill="#000"/>
<rect x="344.180" y="346.600" width="0.640" height="4.500" fill="#000"/>
<rect x="344.180" y="45.950" width="0.640" height="4.500" fill="#000"/>
<rect x="401.180" y="346.600" width="0.640" height="4.500" fill="#000"/>
<rect x="401.180" y="45.950" width="0.640" height="4.500" fill="#000"/>
<rect x="458.180" y="346.600" width="0.640" height="4.500" fill="#000"/>
<rect x="458.180" y="45.950" width="0.640" height="4.500" fill="#000"/>
<rect x="515.180" y="346.600" width="0.640" height="4.500" fill="#000"/>
<rect x="515.180" y="45.950" width="0.640" height="4.500" fill="#000"/>
<rect x="59.500" y="317.180" width="4.500" height="0.640" fill="#000"/>
<rect x="567.800" y="317.180" width="4.500" height="0.640" fill="#000"/>
<rect x="59.500" y="283.180" width="4.500" height="0.640" fill="#000"/>
<rect x="567.800" y="283.180" width="4.500" height="0.640" fill="#000"/>
<rect x="59.500" y="249.180" width="4.500" height="0.640" fill="#000"/>
<rect x="567.800" y="249.180" width="4.500" height="0.640" fill="#000"/>
<rect x="59.500" y="215.180" width="4.500" height="0.640" fill="#000"/>
<rect x="567.800" y="215.180" width="4.500" height="0.640" fill="#000"/>
<rect x="59.500" y="181.180" width="4.500" height="0.640" fill="#000"/>
<rect x="567.800" y="181.180" width="4.500" height="0.640" fill="#000"/>
<rect x="59.500" y="147.180" width="4.500" height="0.640" fill="#000"/>
<rect x="567.800" y="147.180" width="4.500" height="0.640" fill="#000"/>
<rect x="59.500" y="113.180" width="4.500" height="0.640" fill="#000"/>
<rect x="567.800" y="113.180" width="4.500" height="0.640" fill="#000"/>
<rect x="59.500" y="79.180" width="4.500" height="0.640" fill="#000"/>
<rect x="567.800" y="79.180" width="4.500" height="0.640" fill="#000"/>
</g>
<g id="border">
<rect x="59.155" y="45.555" width="513.490" height="0.690" fill="#000"/>
<rect x="59.155" y="350.755" width="513.490" height="0.690" fill="#000"/>
<rect x="59.155" y="46.245" width="0.690" height="304.510" fill="#000"/>
<rect x="571.955" y="46.245" width="0.690" height="304.510" fill="#000"/>
</g>
</svg>
</body></html>
